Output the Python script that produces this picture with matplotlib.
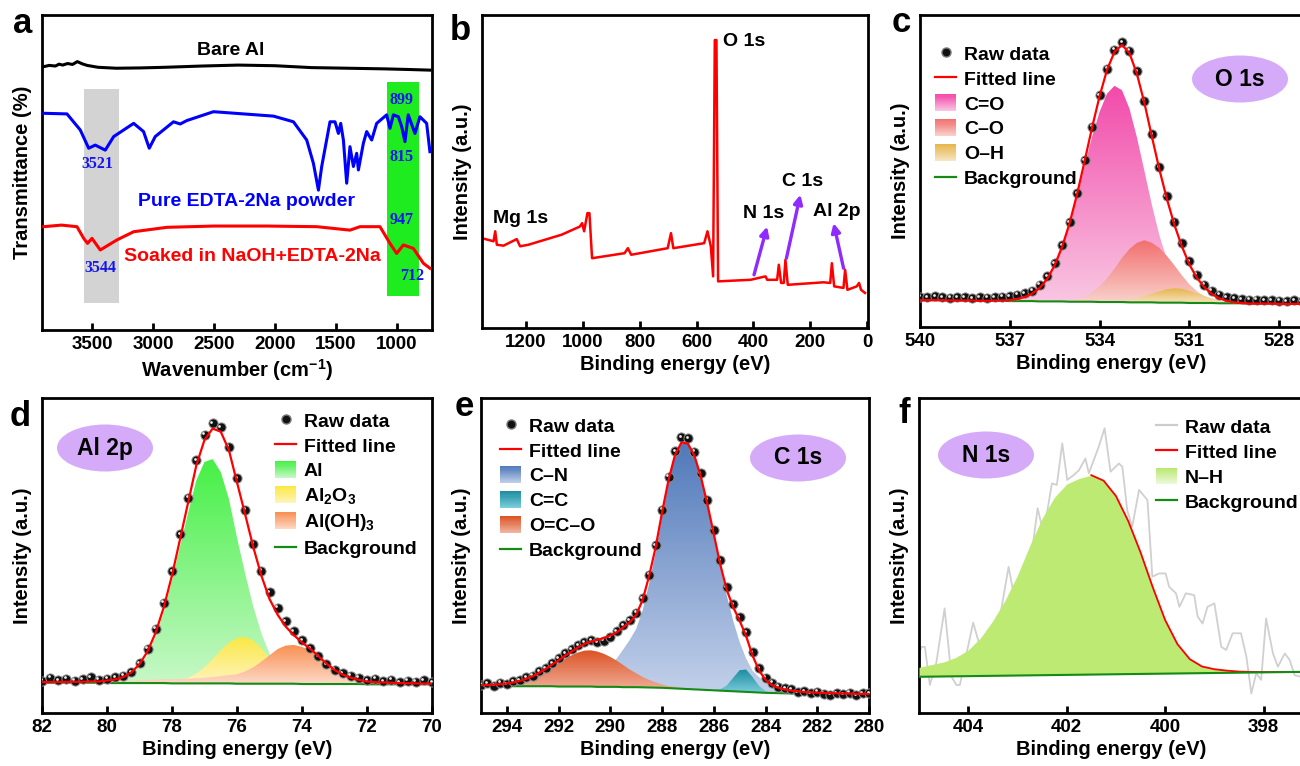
import numpy as np
import matplotlib
matplotlib.use('Agg')
import matplotlib.pyplot as plt
from matplotlib.patches import Ellipse, Rectangle, PathPatch, Patch
from matplotlib.lines import Line2D
from matplotlib.colors import LinearSegmentedColormap
from matplotlib.legend_handler import HandlerBase
from matplotlib.transforms import offset_copy

# === (a) FTIR spectra ===
bare_wn = [3896, 3850, 3800, 3770, 3740, 3700, 3660, 3620, 3580, 3540, 3450, 3300, 3100, 2900,
           2600, 2300, 2000, 1700, 1400, 1100, 900, 727]
bare_t = [83.6, 84.0, 83.8, 84.4, 84.1, 84.6, 84.3, 85.2, 84.5, 84.0, 83.4, 83.1, 83.2, 83.4,
          83.8, 84.1, 83.9, 83.3, 83.1, 82.9, 82.7, 82.5]
edta_wn = [3896, 3705, 3596, 3527, 3473, 3391, 3322, 3158, 3077, 3030, 2981, 2831, 2776, 2721,
           2503, 2011, 1847, 1738, 1683, 1642, 1615, 1547, 1506, 1478, 1459, 1437, 1410, 1383,
           1355, 1328, 1314, 1273, 1246, 1205, 1164, 1082, 1055, 1027, 986, 959, 932, 905, 850,
           809, 754, 727]
edta_t = [68.8, 68.6, 63.5, 57.7, 58.7, 57.1, 61.4, 65.6, 63.0, 57.7, 61.4, 66.1, 65.4, 66.5,
          69.3, 67.9, 66.1, 60.3, 52.9, 44.4, 51.9, 66.1, 66.1, 62.4, 65.6, 60.3, 46.6, 58.2,
          51.9, 56.1, 50.8, 59.3, 63.0, 60.3, 65.6, 68.3, 64.0, 68.3, 67.7, 64.6, 59.8, 68.3,
          62.4, 67.7, 65.6, 56.6]
soak_wn = [3896, 3750, 3623, 3568, 3536, 3500, 3432, 3295, 3158, 2885, 2500, 2066, 1656, 1383,
           1301, 1137, 1055, 1000, 945, 863, 781, 727]
soak_t = [32.8, 33.3, 32.8, 29.1, 27.5, 29.1, 25.4, 28.6, 31.2, 32.6, 33.0, 33.0, 32.8, 31.7,
          32.8, 32.8, 27.5, 24.3, 27.0, 25.9, 21.2, 19.6]
gray_band = [3563, 3281, 8.5, 76.4]
green_band = [1077, 814, 10.8, 78.8]

# === (b) survey spectrum ===
surv_ev = [1355.2, 1314.4, 1308.5, 1302.7, 1279.3, 1232.7, 1221.0, 1191.8, 1075.1, 1010.9,
           1002.8, 995.8, 984.1, 977.1, 967.8, 853.4, 841.8, 830.1, 701.7, 690.1, 681.9, 573.4,
           561.7, 550.0, 541.9, 536.0, 530.2, 524.4, 410.0, 357.5, 351.7, 316.7, 310.8, 302.7,
           293.3, 287.5, 279.3, 153.3, 130.0, 124.1, 116.0, 83.3, 77.5, 69.3, 36.6, 28.5, 21.5, 7.5]
surv_int = [28.7, 27.7, 30.9, 26.6, 26.3, 28.4, 26.1, 26.6, 29.8, 32.4, 33.5, 30.9, 36.7, 36.7,
            22.3, 23.9, 25.5, 23.4, 25.5, 30.3, 25.5, 27.1, 30.9, 26.1, 16.5, 92.0, 92.0, 14.9,
            15.4, 16.5, 15.4, 15.4, 20.2, 14.4, 14.4, 21.8, 13.8, 14.6, 14.4, 20.7, 13.3, 12.8,
            18.6, 12.2, 13.3, 14.4, 12.2, 11.2]

# === (c) O 1s ===
o_ev = np.round(np.arange(540.0, 527.2, -0.25), 2)
o_bg = [8.6]*4 + [8.5]*4 + [8.4]*4 + [8.3]*4 + [8.2]*4 + [8.1]*4 + [8.0]*4 + [7.9]*4 + \
       [7.8]*4 + [7.7]*4 + [7.6]*4 + [7.5]*4 + [7.4]*4
o_co2 = [0]*10 + [0.1, 0.1, 0.3, 0.7, 1.3, 2.4, 4.3, 7.2, 11.5, 17.3, 24.8, 33.6, 43.3, 52.8,
                  60.9, 66.8, 69.3, 67.9, 62.1, 52.9, 42.1, 31.2, 21.6, 14.0, 8.4, 4.8, 2.5, 1.2,
                  0.6, 0.2, 0.1, 0, 0, 0, 0] + [0]*7
o_co = [0]*18 + [0.1, 0.2, 0.4, 0.9, 1.7, 3.0, 5.0, 7.6, 10.7, 14.1, 17.1, 19.1, 19.9, 19.1,
                 17.5, 15.0, 12.0, 8.8, 6.0, 3.8, 2.2, 1.2, 0.6, 0.3, 0.1] + [0]*9
o_oh = [0]*26 + [0.2, 0.4, 0.7, 1.2, 1.9, 2.8, 3.6, 4.3, 4.6, 4.5, 3.9, 3.1, 2.3, 1.5, 0.9,
                 0.5, 0.2, 0.1] + [0]*8
o_raw = [9.7, 9.5, 9.8, 9.6, 9.4, 9.6, 9.5, 9.3, 9.6, 9.4, 9.5, 9.7, 9.9, 10.3, 10.9, 11.6,
         13.5, 16.3, 20.4, 26.2, 33.6, 42.9, 53.4, 64.2, 74.3, 82.8, 88.9, 91.2, 88.6, 81.9,
         72.5, 61.7, 51.2, 41.9, 33.7, 26.9, 21.1, 16.8, 13.6, 11.6, 10.3, 9.6, 9.2, 8.9, 8.8,
         8.7, 8.5, 8.6, 8.4, 8.3, 8.5, 8.2]

# === (d) Al 2p ===
al_ev = np.round(np.arange(82.0, 69.9, -0.25), 2)
al_bg = [9.6]*8 + [9.5]*8 + [9.4]*8 + [9.3]*8 + [9.2]*8 + [9.1]*9
al_al = [0]*8 + [0.3, 0.6, 1.3, 2.7, 5.1, 9.1, 14.9, 22.8, 32.6, 43.6, 54.3, 64.5, 70.3, 71.2,
                 67.1, 58.6, 46.4, 35.0, 24.5, 16.0, 9.6, 5.4, 2.8, 1.4, 0.6, 0.3, 0.1] + [0]*14
al_ox = [0]*14 + [0.1, 0.2, 0.4, 0.9, 1.8, 3.2, 5.2, 7.7, 10.5, 12.9, 14.5, 14.9, 13.7, 11.3,
                  8.3, 5.5, 3.2, 1.7, 0.8, 0.3, 0.1] + [0]*14
al_oh = [0.2, 0.2, 0.25, 0.3, 0.3, 0.35, 0.4, 0.4, 0.5, 0.55, 0.6, 0.7, 0.9, 1.0, 1.1, 1.2,
         1.3, 1.4, 1.5, 1.6, 1.8, 2.0, 2.3, 2.6, 3.0, 3.9, 5.2, 7.0, 9.0, 11.0, 12.1, 12.3,
         11.8, 10.6, 8.7, 6.5, 4.5, 3.0, 2.0, 1.3, 0.9, 0.7, 0.6, 0.5, 0.4, 0.35, 0.3, 0.25, 0.2]
al_raw = [10.3, 11.2, 10.5, 10.9, 10.2, 10.8, 11.3, 10.6, 10.9, 11.4, 11.9, 13.0, 15.9, 20.4,
          26.8, 35.0, 45.1, 56.8, 68.3, 80.2, 88.4, 92.0, 90.8, 84.6, 74.5, 64.6, 53.8, 45.2,
          38.3, 33.4, 29.1, 25.9, 23.1, 20.6, 18.0, 15.5, 13.8, 12.6, 11.9, 11.2, 10.4, 10.9,
          10.1, 10.6, 9.8, 10.3, 9.9, 10.4, 9.7]

# === (e) C 1s ===
c_ev = np.round(np.arange(295.0, 279.9, -0.25), 2)
c_bg = [8.6]*4 + [8.5]*8 + [8.4]*6 + [8.3]*4 + [8.2]*3 + \
       [8.15, 8.1, 8.05, 8.0, 7.9, 7.8, 7.7, 7.6, 7.5, 7.4, 7.3, 7.2, 7.1, 7.0, 6.9, 6.8, 6.7,
        6.6, 6.5, 6.4, 6.35, 6.3, 6.25, 6.2, 6.2, 6.15, 6.15, 6.1, 6.1, 6.05, 6.05, 6.0, 6.0,
        5.95, 5.95, 5.9]
c_cn = [0.2, 0.2, 0.2, 0.25, 0.3, 0.3, 0.4, 0.45, 0.5, 0.55, 0.6, 0.7, 0.8, 1.0, 1.2, 1.6,
        2.1, 2.8, 3.7, 5.0, 6.8, 9.0, 12.0, 15.0, 18.5, 24.5, 33.0, 42.8, 54.6, 65.4, 73.6,
        77.9, 77.7, 74.1, 67.6, 59.1, 49.5, 39.6, 30.4, 22.4, 15.7, 10.6, 6.8, 4.9, 3.5, 2.4,
        1.7, 1.2, 0.9, 0.7, 0.5, 0.4, 0.35, 0.3, 0.25, 0.22, 0.2, 0.17, 0.15, 0.12, 0.1]
c_cc = [0]*36 + [0.1, 0.45, 1.7, 4.3, 6.8, 7.1, 4.8, 2.1, 0.6, 0.1] + [0]*15
c_oco = [0.05, 0.1, 0.2, 0.3, 0.55, 0.9, 1.3, 1.9, 2.7, 3.7, 4.9, 6.2, 7.5, 8.8, 9.9, 10.8,
         11.4, 11.5, 11.2, 10.5, 9.5, 8.3, 7.0, 5.6, 4.4, 3.3, 2.4, 1.7, 1.1, 0.7, 0.5, 0.3,
         0.2, 0.1] + [0]*27
c_raw = [9.0, 9.4, 8.7, 9.6, 9.2, 10.1, 10.4, 11.3, 11.9, 13.2, 14.3, 15.9, 17.4, 18.9, 20.3,
         21.6, 22.4, 23.1, 22.4, 22.9, 24.0, 25.9, 27.8, 29.5, 31.8, 36.5, 43.9, 53.3, 64.6,
         75.0, 83.2, 87.6, 87.3, 82.9, 76.1, 67.7, 58.2, 48.6, 40.0, 34.5, 30.4, 25.6, 19.4,
         14.3, 11.2, 9.6, 8.3, 7.8, 7.5, 6.6, 7.0, 6.3, 6.8, 6.1, 5.8, 6.2, 5.9, 6.4, 5.7, 6.2,
         6.3]

# === (f) N 1s ===
n_ev = np.round(np.arange(405.0, 397.2, -0.25), 2)
n_bg = [11.5, 11.55, 11.6, 11.65, 11.7, 11.75, 11.8, 11.85, 11.9, 11.95, 12.0, 12.05, 12.1,
        12.15, 12.2, 12.25, 12.3, 12.35, 12.4, 12.45, 12.5, 12.55, 12.6, 12.65, 12.7, 12.75,
        12.8, 12.85, 12.9, 12.95, 13.0, 13.05]
n_nh = [3.0, 3.8, 4.6, 6.0, 8.3, 12.1, 17.5, 24.0, 31.8, 41.2, 49.8, 56.4, 60.6, 62.3, 63.3,
        61.5, 56.6, 48.6, 38.6, 27.4, 17.0, 9.3, 4.5, 2.1, 1.2, 0.7, 0.35, 0.2, 0.1, 0.05, 0, 0]
n_raw_ev = [405.02, 404.95, 404.88, 404.78, 404.65, 404.48, 404.34, 404.24, 404.17, 403.90,
            403.76, 403.59, 403.39, 403.18, 403.08, 402.98, 402.88, 402.71, 402.59, 402.47,
            402.30, 402.20, 402.09, 401.99, 401.86, 401.75, 401.62, 401.55, 401.45, 401.35,
            401.23, 401.11, 400.94, 400.87, 400.77, 400.67, 400.53, 400.36, 400.26, 400.12,
            399.99, 399.92, 399.78, 399.71, 399.58, 399.41, 399.34, 399.24, 399.14, 399.00,
            398.86, 398.76, 398.63, 398.46, 398.35, 398.25, 398.15, 398.05, 397.95, 397.81,
            397.71, 397.57, 397.47, 397.37, 397.24]
n_raw = [17.9, 21.0, 21.0, 8.9, 15.8, 33.2, 11.5, 8.9, 8.9, 28.7, 21.0, 20.0, 27.4, 46.4, 38.0,
         42.2, 41.1, 50.7, 65.0, 57.0, 72.9, 72.4, 85.6, 74.0, 75.5, 77.1, 80.8, 76.1, 80.3,
         84.5, 90.4, 76.6, 79.2, 78.2, 64.4, 59.1, 70.8, 67.6, 43.3, 44.3, 44.3, 40.1, 38.0,
         33.7, 38.0, 37.4, 30.6, 28.4, 33.7, 34.8, 21.0, 20.0, 25.3, 25.3, 17.9, 6.2, 12.6,
         10.5, 30.0, 18.9, 14.7, 18.9, 16.8, 12.0, 11.5]

# === style ===
plt.rcParams['font.family'] = ['Liberation Sans', 'DejaVu Sans']
plt.rcParams['font.weight'] = 'bold'
plt.rcParams['axes.labelweight'] = 'bold'
plt.rcParams['mathtext.fontset'] = 'custom'
plt.rcParams['mathtext.rm'] = 'Liberation Sans:bold'
plt.rcParams['mathtext.bf'] = 'Liberation Sans:bold'
plt.rcParams['mathtext.default'] = 'bf'

W, H = 1300, 766
fig = plt.figure(figsize=(W / 100, H / 100), dpi=100)
FIT = '#ff0000'
BGC = '#158a15'


def make_ax(l, t, r, b, xlabel, ylabel):
    ax = fig.add_axes([l / W, 1 - b / H, (r - l) / W, (b - t) / H])
    for s in ax.spines.values():
        s.set_linewidth(2.0)
    ax.tick_params(axis='x', direction='in', length=5, width=2, labelsize=13.5, pad=4)
    ax.set_yticks([])
    ax.set_xlabel(xlabel, fontsize=14.5, labelpad=3)
    ax.set_ylabel(ylabel, fontsize=14.5, labelpad=7)
    return ax


def grad_fill(ax, x, base, comp, top, bottom, z):
    base = np.asarray(base, float)
    upper = base + np.asarray(comp, float)
    poly = ax.fill_between(x, base, upper, facecolor='none', edgecolor='none')
    clip = PathPatch(poly.get_paths()[0], transform=ax.transData, facecolor='none', edgecolor='none')
    ax.add_patch(clip)
    cmap = LinearSegmentedColormap.from_list('g', [bottom, top])
    im = ax.imshow(np.linspace(0, 1, 256).reshape(-1, 1), cmap=cmap, origin='lower', aspect='auto',
                   extent=[x.max(), x.min(), base.min(), upper.max()], zorder=z)
    im.set_clip_path(clip)


class GradHandler(HandlerBase):
    def __init__(self, top, bottom, n=16):
        super().__init__()
        self.cmap = LinearSegmentedColormap.from_list('h', [bottom, top])
        self.n = n

    def create_artists(self, legend, orig_handle, xdescent, ydescent, width, height, fontsize, trans):
        h = height / self.n
        return [Rectangle((-xdescent, -ydescent + k * h), width, h * 1.08,
                          facecolor=self.cmap((k + 0.5) / self.n), edgecolor='none', lw=0,
                          transform=trans) for k in range(self.n)]


def raw_dots(ax, x, y):
    ax.plot(x, y, 'o', ms=6.6, mfc='#111111', mec='#8c8c8c', mew=0.7, zorder=5)
    tr = offset_copy(ax.transData, fig=fig, x=-1.0, y=1.0, units='points')
    ax.plot(x, y, 'o', ms=2.0, color='#e8e8e8', mec='none', transform=tr, zorder=5.5)


def add_legend(ax, comps, x, y, raw_line=False):
    if raw_line:
        raw_h = Line2D([], [], color='#cccccc', lw=1.6)
    else:
        raw_h = Line2D([], [], marker='o', ls='none', ms=6.5, mfc='#111111', mec='#777777')
    handles = [raw_h, Line2D([], [], color=FIT, lw=1.6)]
    labels = ['Raw data', 'Fitted line']
    hmap = {}
    for name, top, bottom in comps:
        p = Patch()
        handles.append(p)
        labels.append(name)
        hmap[p] = GradHandler(top, bottom)
    handles.append(Line2D([], [], color=BGC, lw=1.6))
    labels.append('Background')
    ax.legend(handles, labels, handler_map=hmap, loc='upper left', bbox_to_anchor=(x, y),
              frameon=False, fontsize=14, handlelength=1.1, handleheight=0.95,
              handletextpad=0.4, labelspacing=0.3, borderpad=0, borderaxespad=0, numpoints=1)


def tag(cx, cy, txt):
    fig.add_artist(Ellipse((cx / W, 1 - cy / H), 96 / W, 47 / H, transform=fig.transFigure,
                           facecolor='#d5abf9', edgecolor='none'))
    fig.text(cx / W, 1 - cy / H, txt, ha='center', va='center', fontsize=16.5)


# === (a) ===
ax = make_ax(42, 15, 432, 330, r'Wavenumber (cm$^{-1}$)', 'Transmittance (%)')
ax.fill_between(gray_band[:2], gray_band[2], gray_band[3], color='#d3d3d3', lw=0, zorder=1)
ax.fill_between(green_band[:2], green_band[2], green_band[3], color='#1eec1e', lw=0, zorder=1)
ax.plot(bare_wn, bare_t, color='black', lw=2.2, zorder=3)
ax.plot(edta_wn, edta_t, color='#0000ff', lw=2.2, zorder=3)
ax.plot(soak_wn, soak_t, color='#ff0000', lw=2.2, zorder=3)
ax.text(2361, 88.7, 'Bare Al', ha='center', va='center', fontsize=14)
ax.text(2230, 40.7, 'Pure EDTA-2Na powder', ha='center', va='center', fontsize=14, color='#0000ff')
ax.text(2183, 23.3, 'Soaked in NaOH+EDTA-2Na', ha='center', va='center', fontsize=14, color='#ff0000')
for wn, t, s in [(3459, 52.6, '3521'), (3432, 19.6, '3544'), (959, 73.0, '899'),
                 (959, 54.8, '815'), (959, 34.9, '947'), (869, 17.1, '712')]:
    ax.text(wn, t, s, ha='center', va='center', fontsize=11.5, color='#1515ee',
            family=['Liberation Serif', 'DejaVu Serif'])
ax.set_xlim(3910, 710)
ax.set_ylim(0, 100)
ax.set_xticks([3500, 3000, 2500, 2000, 1500, 1000])

# === (b) ===
ax = make_ax(482, 15, 868, 328, 'Binding energy (eV)', 'Intensity (a.u.)')
ax.plot(surv_ev, surv_int, color='#ff0000', lw=1.8)
ax.text(506, 91.5, 'O 1s', ha='left', va='center', fontsize=14)
ax.text(1221, 35.1, 'Mg 1s', ha='center', va='center', fontsize=14)
ax.text(363, 36.7, 'N 1s', ha='center', va='center', fontsize=14)
ax.text(226, 46.8, 'C 1s', ha='center', va='center', fontsize=14)
ax.text(107, 37.2, 'Al 2p', ha='center', va='center', fontsize=14)
for tail, head in [((398, 17.0), (352, 32.4)), ((284, 22.3), (235, 42.6)), ((83, 19.1), (118, 33.5))]:
    ax.annotate('', xy=head, xytext=tail,
                arrowprops=dict(arrowstyle='-|>', color='#8f2bff', lw=2.4, mutation_scale=13,
                                shrinkA=0, shrinkB=0))
ax.set_xlim(1355, -3)
ax.set_ylim(0, 100)
ax.set_xticks([1200, 1000, 800, 600, 400, 200, 0])

# === (c) ===
ax = make_ax(920, 15, 1303, 327, 'Binding energy (eV)', 'Intensity (a.u.)')
grad_fill(ax, o_ev, o_bg, o_co2, '#f24aaa', '#f9c8e3', 1)
grad_fill(ax, o_ev, o_bg, o_co, '#f26f6f', '#f9d4cd', 2)
grad_fill(ax, o_ev, o_bg, o_oh, '#e6b44a', '#f7e7c8', 3)
ax.plot(o_ev, o_bg, color=BGC, lw=1.5, zorder=4)
raw_dots(ax, o_ev, o_raw)
ax.plot(o_ev, np.array(o_bg) + np.array(o_co2) + np.array(o_co) + np.array(o_oh),
        color=FIT, lw=1.6, zorder=6)
add_legend(ax, [('C=O', '#f24aaa', '#f9c8e3'), ('C–O', '#f26f6f', '#f9d4cd'),
                ('O–H', '#e6b44a', '#f7e7c8')], 0.039, 0.905)
ax.set_xlim(540, 527.2)
ax.set_ylim(0, 100)
ax.set_xticks([540, 537, 534, 531, 528])
tag(1240, 79, 'O 1s')

# === (d) ===
ax = make_ax(42, 398, 432, 713, 'Binding energy (eV)', 'Intensity (a.u.)')
grad_fill(ax, al_ev, al_bg, al_al, '#45f045', '#c8f8c8', 1)
grad_fill(ax, al_ev, al_bg, al_ox, '#fae842', '#fff4c0', 2)
grad_fill(ax, al_ev, al_bg, al_oh, '#f98e4f', '#fddac8', 3)
ax.plot(al_ev, al_bg, color=BGC, lw=1.5, zorder=4)
raw_dots(ax, al_ev, al_raw)
ax.plot(al_ev, np.array(al_bg) + np.array(al_al) + np.array(al_ox) + np.array(al_oh),
        color=FIT, lw=1.6, zorder=6)
add_legend(ax, [('Al', '#45f045', '#c8f8c8'), ('Al$_2$O$_3$', '#fae842', '#fff4c0'),
                ('Al(OH)$_3$', '#f98e4f', '#fddac8')], 0.597, 0.957)
ax.set_xlim(82, 70)
ax.set_ylim(0, 100)
ax.set_xticks([82, 80, 78, 76, 74, 72, 70])
tag(105, 448, 'Al 2p')

# === (e) ===
ax = make_ax(481, 398, 869, 713, 'Binding energy (eV)', 'Intensity (a.u.)')
grad_fill(ax, c_ev, c_bg, c_cn, '#5079ba', '#c3d1ea', 1)
grad_fill(ax, c_ev, c_bg, c_cc, '#1b8c9e', '#7fd0de', 2)
grad_fill(ax, c_ev, c_bg, c_oco, '#dc5020', '#f2b8a6', 3)
ax.plot(c_ev, c_bg, color=BGC, lw=1.5, zorder=4)
raw_dots(ax, c_ev, c_raw)
ax.plot(c_ev, np.array(c_bg) + np.array(c_cn) + np.array(c_cc) + np.array(c_oco),
        color=FIT, lw=1.6, zorder=6)
add_legend(ax, [('C–N', '#5079ba', '#c3d1ea'), ('C=C', '#1b8c9e', '#7fd0de'),
                ('O=C–O', '#dc5020', '#f2b8a6')], 0.049, 0.941)
ax.set_xlim(295, 280)
ax.set_ylim(0, 100)
ax.set_xticks([294, 292, 290, 288, 286, 284, 282, 280])
tag(798, 458, 'C 1s')

# === (f) ===
ax = make_ax(919, 398, 1303, 713, 'Binding energy (eV)', 'Intensity (a.u.)')
ax.plot(n_raw_ev, n_raw, color='#d0d0d0', lw=1.3, zorder=1)
n_fit = np.array(n_bg) + np.array(n_nh)
ax.fill_between(n_ev, n_bg, n_fit, color='#bcea72', lw=0, zorder=3)
right = n_ev <= 401.5
ax.plot(n_ev[right], n_fit[right], color=FIT, lw=1.3, zorder=4)
ax.plot(n_ev, n_bg, color=BGC, lw=1.5, zorder=5)
add_legend(ax, [('N–H', '#b8e86e', '#eef9dd')], 0.617, 0.937, raw_line=True)
ax.set_xlim(405.0, 397.2)
ax.set_ylim(0, 100)
ax.set_xticks([404, 402, 400, 398])
tag(986, 455, 'N 1s')

# === panel letters ===
for x, y, s in [(13, 33, 'a'), (450, 40, 'b'), (892, 32, 'c'),
                (10, 426, 'd'), (455, 416, 'e'), (898, 423, 'f')]:
    fig.text(x / W, 1 - y / H, s, fontsize=25, ha='left', va='baseline')

fig.savefig('out.png', dpi=100, facecolor='white')
